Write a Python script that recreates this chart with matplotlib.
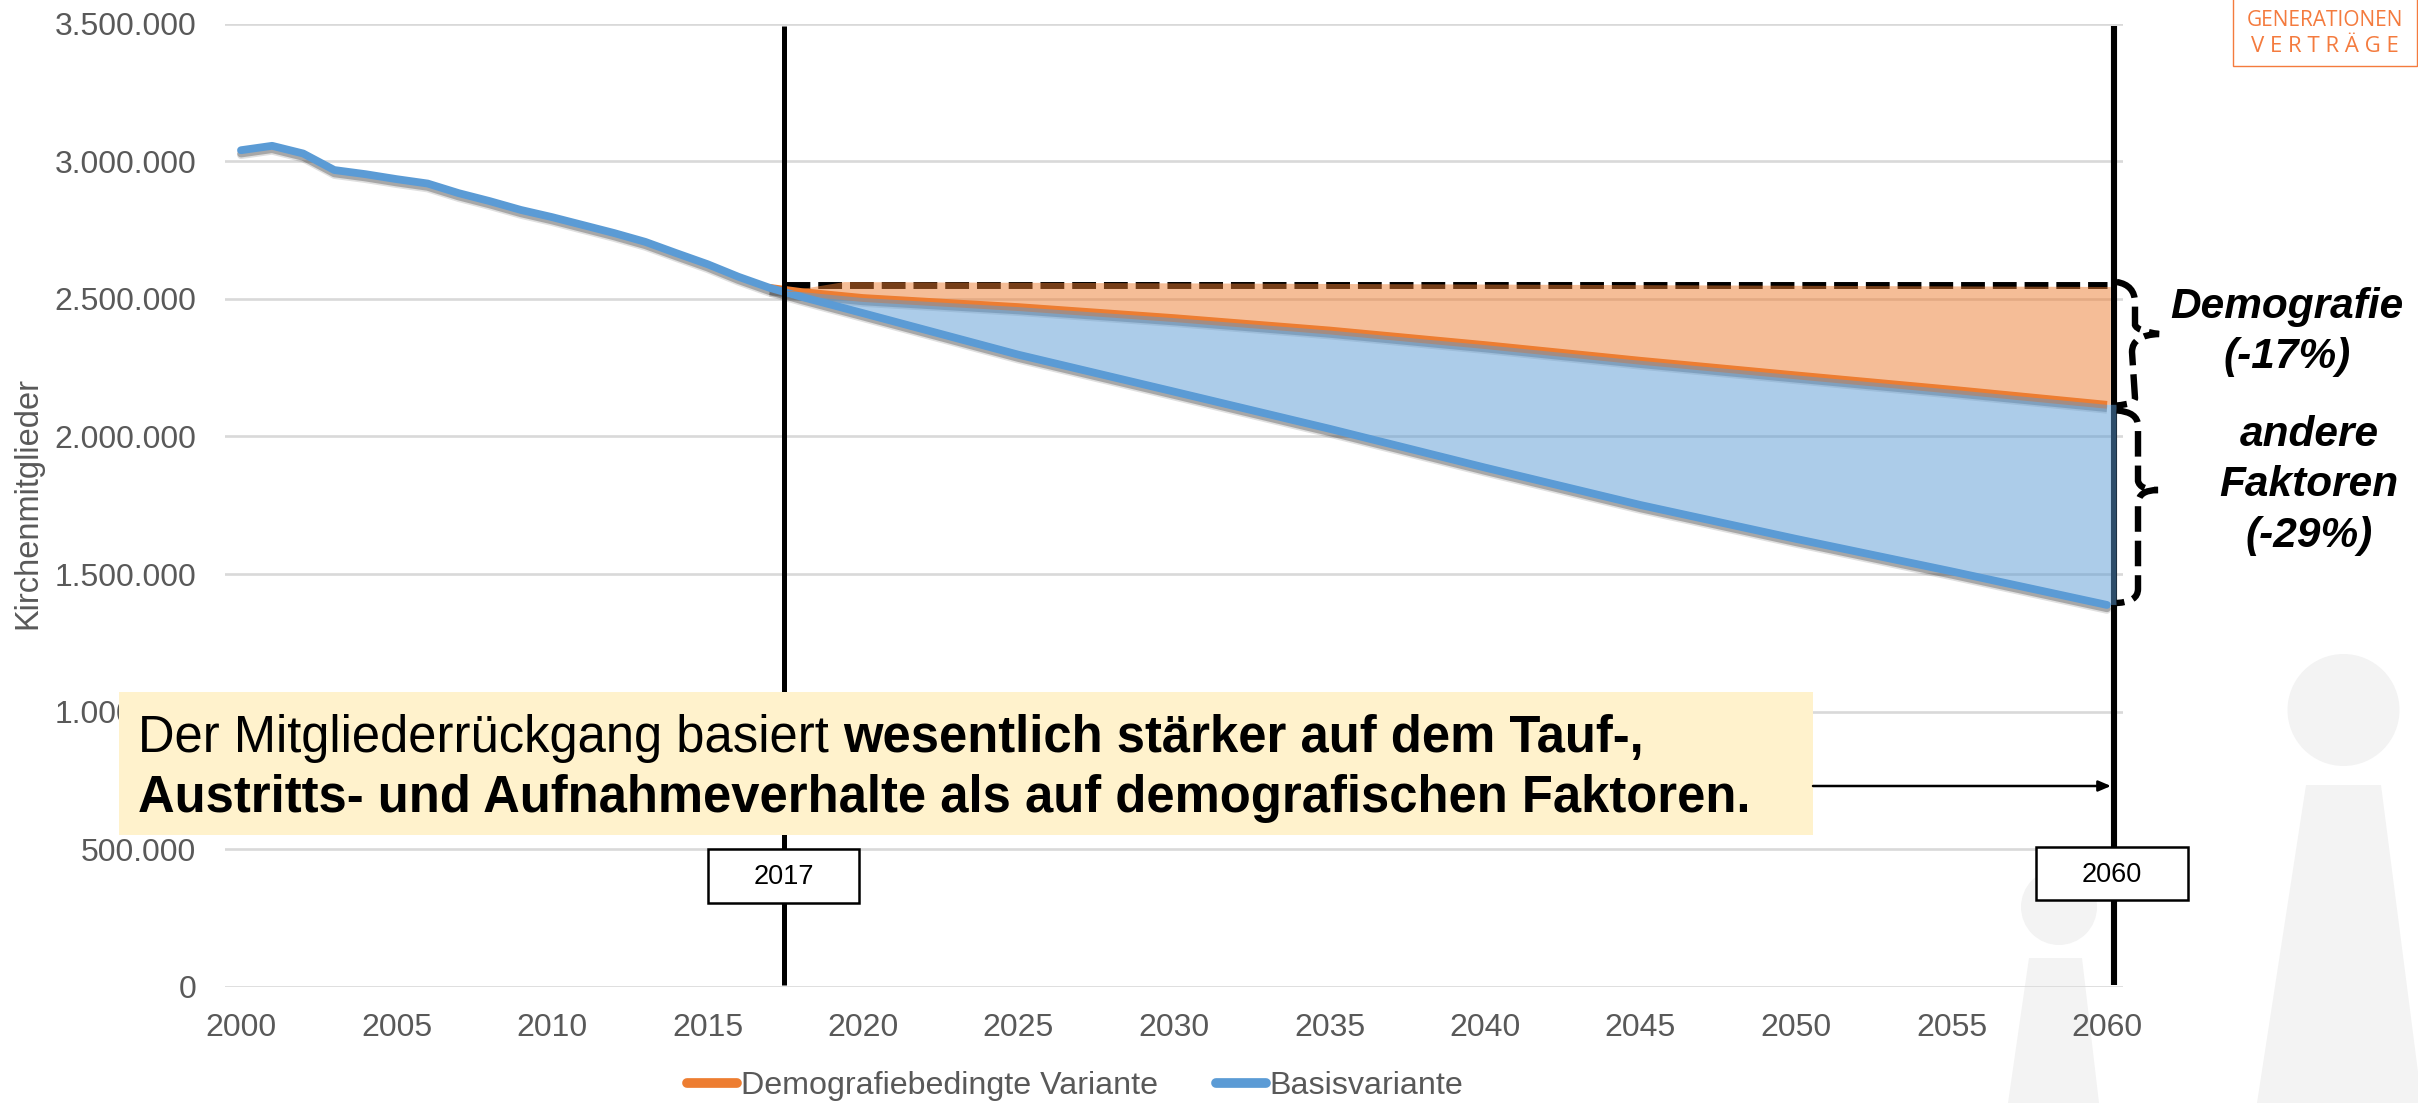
import matplotlib
matplotlib.use('Agg')
import matplotlib.pyplot as plt
import matplotlib.patheffects as pe
from matplotlib.lines import Line2D
from matplotlib.patches import Ellipse, PathPatch, Polygon, Rectangle
from matplotlib.path import Path
from matplotlib.ticker import FuncFormatter

plt.rcParams['font.family'] = ['Liberation Sans', 'DejaVu Sans']

W, H = 2418, 1103

# values
hist_years = [2000, 2001, 2002, 2003, 2004, 2005, 2006, 2007, 2008, 2009,
              2010, 2011, 2012, 2013, 2014, 2015, 2016, 2017]
hist_values = [3040000, 3056000, 3028000, 2968000, 2953000, 2935000, 2919000, 2884000, 2855000, 2823000,
               2797000, 2768000, 2739000, 2707000, 2666000, 2626000, 2580000, 2540000]
proj_years = [2018, 2020, 2025, 2030, 2035, 2040, 2045, 2050, 2055, 2060]
basis_proj = [2508000, 2448000, 2297000, 2163000, 2028000, 1887000, 1751000, 1628000, 1510000, 1388000]
demo_proj = [2525000, 2503000, 2470000, 2430000, 2385000, 2332000, 2275000, 2222000, 2170000, 2115000]

ref_value = 2549000
fill_top_x = [2019.4, 2060.12]
fill_top = [2561000, 2543000]
marker_years = [2017.46, 2060.22]
fill_left = 2017.46
fill_left_value = 2525000
orange_right = 2060.12
blue_right = 2060.31

y_ticks = [0, 500000, 1000000, 1500000, 2000000, 2500000, 3000000, 3500000]
x_ticks = list(range(2000, 2061, 5))

ORANGE = '#ED7D31'
BLUE = '#5B9BD5'
GREY = '#595959'


def shadow():
    return [pe.SimpleLineShadow(offset=(0, -3.6), shadow_color='black', alpha=0.12),
            pe.SimpleLineShadow(offset=(0, -2.4), shadow_color='black', alpha=0.25),
            pe.Normal()]


fig = plt.figure(figsize=(W / 100, H / 100), dpi=100, facecolor='white')

# silhouettes behind the chart
bg = fig.add_axes([0, 0, 1, 1], zorder=0)
bg.set_xlim(0, W)
bg.set_ylim(H, 0)
bg.axis('off')
bg.add_patch(Ellipse((2343.5, 710), 112, 112, color='#F3F3F3', lw=0))
bg.add_patch(Polygon([(2306, 785), (2381, 785), (2422, 1103), (2257, 1103)], color='#F3F3F3', lw=0))
bg.add_patch(Ellipse((2059, 907), 76, 76, color='#F3F3F3', lw=0))
bg.add_patch(Polygon([(2029, 958), (2082, 958), (2099, 1103), (2008, 1103)], color='#F3F3F3', lw=0))

# main chart
ax = fig.add_axes([225.45 / W, 1 - 987 / H, (2122.55 - 225.45) / W, (987 - 23.6) / H], zorder=1)
ax.patch.set_alpha(0)
ax.set_xlim(1999.5, 2060.5)
ax.set_ylim(0, 3500000)
for s in ax.spines.values():
    s.set_visible(False)
ax.set_yticks(y_ticks)
ax.set_xticks(x_ticks)
ax.yaxis.set_major_formatter(FuncFormatter(lambda v, p: f'{int(v):,}'.replace(',', '.')))
ax.tick_params(axis='both', length=0, labelsize=23, labelcolor=GREY)
ax.tick_params(axis='y', pad=21)
ax.tick_params(axis='x', pad=18.5)
ax.grid(axis='y', color='#D9D9D9', lw=1.9, zorder=0.5)
ax.set_axisbelow(True)
ax.set_ylabel('Kirchenmitglieder', fontsize=23.5, color=GREY)
ax.yaxis.set_label_coords((43 - 225.45) / (2122.55 - 225.45), (987 - 503) / (987 - 23.6))

ax.plot([fill_left + 0.08, 2060], [ref_value, ref_value], color='black', lw=5,
        dashes=(24 / 7, 8 / 7), dash_capstyle='butt', zorder=1)
ax.plot([marker_years[1]] * 2, [7000, 3492000], color='black', lw=4.4, solid_capstyle='butt', zorder=1.2)

demo_x = [hist_years[-1]] + proj_years
demo_y = [hist_values[-1]] + demo_proj
basis_x = hist_years + proj_years
basis_y = hist_values + basis_proj
ax.plot(demo_x, demo_y, color=ORANGE, lw=5.6, solid_capstyle='butt', path_effects=shadow(), zorder=2)
ax.plot(basis_x, basis_y, color=BLUE, lw=5.6, solid_capstyle='round', path_effects=shadow(), zorder=2.1)

# shaded gaps sit on top of the lines, so the lines show through them
low_x = proj_years + [orange_right]
low_y = demo_proj + [demo_proj[-1]]
ax.fill([fill_left] + fill_top_x + low_x[::-1], [fill_left_value] + fill_top + low_y[::-1],
        color=ORANGE, alpha=0.5, lw=0, zorder=3)
ax.fill([fill_left] + proj_years + [blue_right, blue_right] + proj_years[::-1],
        [fill_left_value] + demo_proj + [demo_proj[-1], basis_proj[-1]] + basis_proj[::-1],
        color=BLUE, alpha=0.5, lw=0, zorder=3)

ax.plot([marker_years[0]] * 2, [7000, 3492000], color='black', lw=3.6, solid_capstyle='butt', zorder=4)

handles = [Line2D([], [], color=ORANGE, lw=7, solid_capstyle='round'),
           Line2D([], [], color=BLUE, lw=7, solid_capstyle='round')]
fig.legend(handles, ['Demografiebedingte Variante', 'Basisvariante'], ncol=2, frameon=False,
           loc='center', bbox_to_anchor=(1075 / W, 1 - 1086 / H), fontsize=23.2, labelcolor=GREY,
           handlelength=1.57, handletextpad=0.1, columnspacing=1.8, borderpad=0, borderaxespad=0)

# notes on top, in pixel coordinates
ov = fig.add_axes([0, 0, 1, 1], zorder=2)
ov.set_xlim(0, W)
ov.set_ylim(H, 0)
ov.axis('off')
ov.patch.set_alpha(0)

ov.annotate('', xy=(2111, 786), xytext=(1813, 786),
            arrowprops=dict(arrowstyle='-|>,head_length=0.75,head_width=0.32', color='black', lw=1.8,
                            shrinkA=0, shrinkB=0))
ov.add_patch(Rectangle((118.6, 692), 1694.4, 143, color='#FFF2CC', lw=0))

r = fig.canvas.get_renderer()
t1 = ov.text(138, 751.7, 'Der Mitgliederrückgang basiert ', fontsize=36.5, va='baseline', color='black')
end_x = ov.transData.inverted().transform(t1.get_window_extent(r))[1][0]
ov.text(end_x, 751.7, 'wesentlich stärker auf dem Tauf-,', fontsize=36.5, fontweight='bold', va='baseline', color='black')
ov.text(138, 812, 'Austritts- und Aufnahmeverhalte als auf demografischen Faktoren.', fontsize=36.5,
        fontweight='bold', va='baseline', color='black')

ov.add_patch(Rectangle((708, 849), 151, 54, fc='white', ec='black', lw=1.8, zorder=3))
ov.text(784, 877, '2017', fontsize=19.5, ha='center', va='center', zorder=4)
ov.add_patch(Rectangle((2036, 847), 152, 53, fc='white', ec='black', lw=1.8, zorder=3))
ov.text(2112, 875, '2060', fontsize=19.5, ha='center', va='center', zorder=4)

C3 = Path.CURVE3
brace_1 = Path([(2116.7, 282), (2135, 285), (2135, 303), (2135, 325), (2137, 331), (2159, 334),
                (2132, 335), (2132, 352), (2135, 398), (2135, 404), (2116.7, 405.5)],
               [Path.MOVETO, C3, C3, Path.LINETO, C3, C3, C3, C3, Path.LINETO, C3, C3])
brace_2 = Path([(2116.7, 410.4), (2138, 412), (2138, 426), (2138, 481), (2140, 490), (2158, 490),
                (2138, 490), (2138, 504), (2138, 589), (2138, 602), (2116.7, 603)],
               [Path.MOVETO, C3, C3, Path.LINETO, C3, C3, C3, C3, Path.LINETO, C3, C3])
for b in (brace_1, brace_2):
    ov.add_patch(PathPatch(b, fc='none', ec='black', lw=4.6, ls=(0, (4.0, 1.4)), capstyle='butt'))

for txt, cx, by in [('Demografie', 2287, 318), ('(-17%)', 2287, 368), ('andere', 2309, 445.7),
                    ('Faktoren', 2309, 496), ('(-29%)', 2309, 547)]:
    ov.text(cx, by, txt, fontsize=30.5, fontweight='bold', fontstyle='italic', ha='center', va='baseline')

# logo
ov.add_patch(Rectangle((2232.7, -3), 184, 69, fc='none', ec='#F47B3E', lw=1))
ov.text(2324.5, 20, 'GENERATIONEN', fontsize=15, family='Open Sans', color='#F47B3E', ha='center', va='center')
ov.text(2324.5, 47, 'V E R T R Ä G E', fontsize=16, family='Open Sans', color='#F47B3E', ha='center', va='center')

fig.savefig('out.png', dpi=100, facecolor='white')
